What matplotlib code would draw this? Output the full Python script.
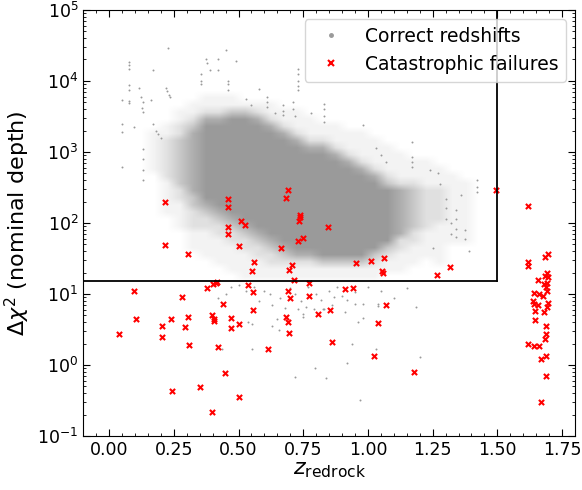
import numpy as np
import matplotlib
matplotlib.use("Agg")
import matplotlib.pyplot as plt
from matplotlib.lines import Line2D
from matplotlib.ticker import MultipleLocator, LogLocator

# --- catastrophic failures (red x) ---
fail_z = [0.217, 0.458, 0.458, 0.691, 0.683, 0.737, 0.737, 0.732, 0.847, 0.511,
          0.526, 0.458, 0.458, 0.749, 0.730, 0.217, 0.502, 0.663, 0.304, 0.560,
          0.707, 0.553, 0.696, 0.716, 0.418, 0.413, 0.403, 0.378, 0.537, 0.773,
          0.098, 0.691, 0.556, 0.282, 0.698, 0.773, 0.441, 0.556, 0.806, 0.852,
          0.398, 0.105, 0.239, 0.304, 0.404, 0.404, 0.471, 0.685, 0.690, 0.205,
          0.503, 0.295, 0.471, 0.696, 0.040, 0.205, 0.309, 0.422, 0.449, 0.613,
          0.350, 0.243, 0.503, 0.397, 0.860, 1.068, 1.037, 1.022, 1.178, 0.954,
          1.010, 1.062, 1.054, 1.059, 1.265, 1.317, 0.912, 0.943, 1.494,
          1.619, 1.685, 1.697, 1.619, 1.619, 1.691, 1.685, 1.697, 1.658, 1.681,
          1.692, 1.687, 1.690, 1.642, 1.659, 1.676, 1.638, 1.642, 1.656, 1.695,
          1.690, 1.680, 1.644, 1.646, 1.689, 1.687, 1.683, 1.619, 1.642, 1.659,
          1.689, 1.670, 1.686, 1.670]
fail_chi2 = [200, 219, 170, 295, 224, 128, 122, 105, 87, 105,
             93, 87, 71, 62, 55, 49, 47, 45, 36, 28,
             26, 21, 22, 15.8, 14.8, 14.1, 13.8, 12.3, 13.5, 14.1,
             11.2, 11.2, 10.5, 9.1, 8.9, 9.3, 7.2, 5.9, 5.2, 5.9,
             5.1, 4.4, 4.5, 4.7, 4.4, 4.2, 4.6, 4.8, 4.1, 3.6,
             3.8, 3.4, 3.3, 2.8, 2.75, 2.5, 1.9, 1.8, 0.78, 1.66,
             0.49, 0.43, 0.35, 0.22, 2.1, 7.1, 3.9, 1.35, 0.81, 27.5,
             29, 32, 21, 19.5, 18.6, 24, 11.7, 12.0, 295,
             174, 33, 36, 28, 25, 20, 18.2, 17.4, 15.5, 13.8,
             14.1, 12.6, 11.0, 10.2, 10.0, 9.3, 7.9, 7.2, 6.9, 7.4,
             6.6, 5.6, 5.8, 4.3, 3.5, 2.75, 2.3, 2.0, 1.86, 1.86,
             1.35, 1.2, 0.69, 0.30]

# --- correct redshifts: isolated points outside the dense cloud ---
good_z = [0.077, 0.077, 0.077, 0.075, 0.075, 0.075, 0.075, 0.05, 0.05, 0.05, 0.05,
          0.097, 0.116, 0.125, 0.13, 0.128, 0.13, 0.16, 0.17, 0.227, 0.22, 0.225,
          0.23, 0.235, 0.13, 0.13, 0.13, 0.13, 0.17, 0.18, 0.19, 0.20,
          0.45, 0.49, 0.375, 0.38, 0.39, 0.42, 0.42, 0.355, 0.355, 0.355, 0.46,
          0.46, 0.46, 0.58, 0.61, 0.61, 0.61, 0.73, 0.73, 0.73, 0.73, 0.73,
          0.71, 0.71, 0.72, 0.67, 0.67, 0.67, 0.83, 0.83, 0.83, 0.83, 0.98,
          1.17, 1.17, 1.17, 1.17, 1.03, 1.05, 1.07, 0.53, 0.55, 0.64, 0.78,
          1.42, 1.42, 1.42, 1.34, 1.34, 1.34, 1.34, 1.32, 1.32, 1.375, 1.375,
          1.30, 1.30, 1.30, 1.27, 1.25, 1.39, 1.36, 1.28, 1.24,
          0.537, 0.552, 0.552, 0.63, 0.65, 0.656, 0.718, 0.795, 0.838, 0.73,
          0.75, 0.79, 0.83, 0.436, 0.75, 0.826, 0.91, 0.96, 0.98, 0.95, 0.98,
          1.04, 1.04, 1.185, 0.94, 0.92, 0.97, 1.03, 1.20, 0.92, 0.87,
          0.56, 0.60, 0.62, 0.66, 0.70, 0.72, 0.74, 0.77, 0.80, 0.82, 0.85,
          0.88, 0.90, 0.63, 0.68, 0.76, 0.86, 0.58, 0.53, 0.50, 0.47, 0.45,
          0.42, 0.40, 0.95, 1.00, 1.05, 1.10, 1.15]
good_chi2 = [18600, 16600, 14800, 8700, 7400, 5200, 4800, 5400, 2450, 1900, 620,
             2240, 7900, 5900, 5000, 4200, 3600, 5400, 14100, 28800, 7900, 7100,
             6300, 5900, 1100, 790, 560, 400, 2500, 2000, 1800, 1580,
             27500, 19000, 20000, 17800, 14100, 20000, 14100, 12600, 10000, 9100, 10000,
             8900, 7400, 7800, 5900, 5000, 4300, 14800, 12600, 10000, 8500, 7400,
             5000, 4000, 3200, 4600, 3800, 3300, 4700, 4000, 3200, 2600, 2400,
             1380, 850, 710, 620, 1120, 890, 710, 5600, 4500, 3500, 3500,
             400, 320, 270, 150, 112, 83, 63, 100, 71, 79, 60,
             220, 160, 115, 500, 45, 40, 250, 355, 560,
             4.1, 3.8, 1.7, 3.5, 4.5, 3.1, 0.68, 0.91, 0.66, 6.2,
             5.2, 6.2, 6.2, 1.7, 4.8, 6.2, 5.6, 4.1, 4.6, 7.2, 7.2,
             7.2, 6.8, 6.6, 2.0, 1.07, 0.32, 1.7, 1.3, 8.3, 9.1,
             12.6, 11.2, 10, 8.9, 12, 10, 7.9, 12.6, 10, 8.3, 11.2,
             12.6, 9.5, 7.1, 6.3, 6.6, 7.1, 7.9, 11.2, 13.2, 12.6, 10,
             8.9, 13.2, 10.5, 12.6, 11.2, 8.9, 12]

# --- dense cloud of correct redshifts, read as a density map ---
# one string per z bin (0.05 wide, centres 0.175 ... 1.425);
# characters run from log10(chi2)=3.85 down to 1.15 in 0.1 steps, 0 = empty, 5 = solid
cloud_z = [0.175, 0.225, 0.275, 0.325, 0.375, 0.425, 0.475, 0.525, 0.575, 0.625,
           0.675, 0.725, 0.775, 0.825, 0.875, 0.925, 0.975, 1.025, 1.075, 1.125,
           1.175, 1.225, 1.275, 1.325, 1.375, 1.425]
cloud_logchi2 = [3.85, 3.75, 3.65, 3.55, 3.45, 3.35, 3.25, 3.15, 3.05, 2.95,
                 2.85, 2.75, 2.65, 2.55, 2.45, 2.35, 2.25, 2.15, 2.05, 1.95,
                 1.85, 1.75, 1.65, 1.55, 1.45, 1.35, 1.25, 1.15]
cloud_density = [
    "0000001111110000000000000000",
    "0000011222222111110000000000",
    "0001122333333322111100000000",
    "0011234444444443322211100000",
    "0112455555555555432211110000",
    "0112455555555555543221111000",
    "0113555555555555554322111100",
    "0013555555555555555432211110",
    "0012455555555555555543221110",
    "0011245555555555555554322110",
    "0001124555555555555555432110",
    "0001112455555555555555542110",
    "0000111245555555555555542110",
    "0000011245555555555555553110",
    "0000011124555555555555553110",
    "0000001112455555555555553110",
    "0000001111245555555555553110",
    "0000000111124555555555532110",
    "0000000011112355555555321100",
    "0000000001111244444442211100",
    "0000000000111233333322111000",
    "0000000000111122222211110000",
    "0000000000011122222111111000",
    "0000000000001111111111000000",
    "0000000000000111111111000000",
    "0000000000000000000000000000",
]

z_cut = 1.5
chi2_cut = 15

fig, ax = plt.subplots(figsize=(5.82, 4.9), dpi=100)
fig.subplots_adjust(left=0.143, right=0.988, bottom=0.110, top=0.980)

grey = "#9a9a9a"

# density map drawn on a linear log10 axis lying under the main log axis
ax_img = fig.add_axes(ax.get_position(), zorder=0)
ax.set_zorder(1)
ax.patch.set_alpha(0)
levels = np.array([[int(ch) for ch in col] for col in cloud_density], float).T
levels = np.pad(levels, 1)
alpha_of_level = np.array([0.0, 0.12, 0.3, 0.55, 0.8, 1.0])
rgba = np.zeros(levels.shape + (4,))
rgba[..., :3] = 0.604
rgba[..., 3] = alpha_of_level[levels.astype(int)]
dz = cloud_z[1] - cloud_z[0]
dl = cloud_logchi2[0] - cloud_logchi2[1]
ax_img.imshow(rgba, aspect="auto", interpolation="bilinear", origin="upper",
              extent=[cloud_z[0] - 1.5 * dz, cloud_z[-1] + 1.5 * dz,
                      cloud_logchi2[-1] - 1.5 * dl, cloud_logchi2[0] + 1.5 * dl])
ax_img.set_xlim(-0.1, 1.8)
ax_img.set_ylim(-1, 5)
ax_img.axis("off")

ax.scatter(good_z, good_chi2, s=2, color=grey, marker="o", linewidths=0, zorder=2)
ax.scatter(fail_z, fail_chi2, s=14, color="red", marker="x", linewidths=1.5, zorder=3)

ax.plot([-0.1, z_cut], [chi2_cut, chi2_cut], color="black", lw=1.3, zorder=4)
ax.plot([z_cut, z_cut], [chi2_cut, 1e5], color="black", lw=1.3, zorder=4)

ax.set_yscale("log")
ax.set_xlim(-0.1, 1.8)
ax.set_ylim(1e-1, 1e5)
ax.xaxis.set_major_locator(MultipleLocator(0.25))
ax.xaxis.set_minor_locator(MultipleLocator(0.05))
ax.yaxis.set_major_locator(LogLocator(base=10, numticks=10))
ax.yaxis.set_minor_locator(LogLocator(base=10, subs=np.arange(2, 10), numticks=20))
ax.tick_params(which="both", direction="in", top=True, right=True, labelsize=12.5)
ax.tick_params(which="major", length=5)
ax.tick_params(which="minor", length=2.5)

ax.set_xlabel(r"$z_{\rm redrock}$", fontsize=16, labelpad=1)
ax.set_ylabel(r"$\Delta\chi^2$ (nominal depth)", fontsize=16)

handles = [Line2D([], [], ls="none", marker=".", color=grey, markersize=5),
           Line2D([], [], ls="none", marker="x", color="red", markersize=5, mew=1.5)]
ax.legend(handles, ["Correct redshifts", "Catastrophic failures"],
          loc="upper right", fontsize=13.5)

plt.savefig("out.png", dpi=100)
